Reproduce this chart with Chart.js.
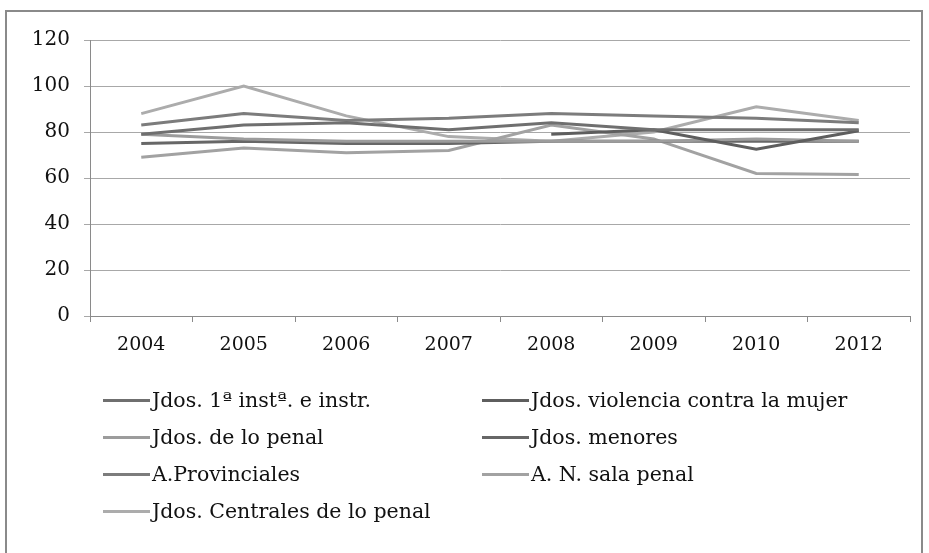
<!DOCTYPE html>
<html>
<head>
<meta charset="utf-8">
<script src="https://cdn.jsdelivr.net/npm/chart.js@4/dist/chart.umd.min.js"></script>
<style>
  html, body { margin: 0; padding: 0; background: #fff; overflow: hidden; }
  #wrap { position: relative; width: 929px; height: 553px; }
  #frame { position: absolute; left: 5px; top: 10px; width: 918px; height: 600px;
           border: 2px solid #8a8a8a; box-sizing: border-box; }
  #chartBox { position: absolute; left: 0; top: 0; width: 929px; height: 553px; }
  .leg { position: absolute; font-family: "DejaVu Serif", serif; font-size: 20.5px; color: #111;
         white-space: nowrap; line-height: 20px; }
  .leg i { position: absolute; left: -49px; top: 9px; width: 47px; height: 3px; }
</style>
</head>
<body>
<div id="wrap">
  <div id="frame"></div>
  <div id="chartBox"><canvas id="ch_line"></canvas></div>
  <div id="legend"></div>
</div>
<script>
/* ── data ─────────────────────────────────────────────────────── */
const years = ['2004', '2005', '2006', '2007', '2008', '2009', '2010', '2012'];

const primeraInst = [79, 83, 84, 81, 84, 81, 81, 81];
const violencia   = [null, null, null, null, 79, 81, 72.5, 80.5];
const dePenal     = [79, 77, 76, 76, 76, 76, 77, 76];
const menores     = [75, 76, 75, 75, 76, 76, 76, 76];
const aProv       = [83, 88, 85, 86, 88, 87, 86, 84];
const anSala      = [69, 73, 71, 72, 83, 77, 62, 61.5];
const centrales   = [88, 100, 87, 78, 76, 80, 91, 85];

const seriesNames = [
  'Jdos. 1ª instª. e instr.', 'Jdos. violencia contra la mujer',
  'Jdos. de lo penal', 'Jdos. menores',
  'A.Provinciales', 'A. N. sala penal',
  'Jdos. Centrales de lo penal'
];
const seriesData   = [primeraInst, violencia, dePenal, menores, aProv, anSala, centrales];
const seriesColors = ['#6f6f6f', '#5e5e5e', '#9c9c9c', '#676767', '#7c7c7c', '#a2a2a2', '#acacac'];

const yTicks = [0, 20, 40, 60, 80, 100, 120];

/* ── chart ────────────────────────────────────────────────────── */
const FONT_X = { family: '"DejaVu Serif", serif', size: 19 };
const FONT_Y = { family: '"DejaVu Serif", serif', size: 20 };

function drawChart() {
  const datasets = seriesNames.map((name, i) => ({
    label: name,
    data: seriesData[i],
    borderColor: seriesColors[i],
    backgroundColor: seriesColors[i],
    borderWidth: 3,
    pointRadius: 0,
    tension: 0,
    spanGaps: false
  }));

  const canvas = document.getElementById('ch_line');
  return new Chart(canvas.getContext('2d'), {
    type: 'line',
    data: { labels: years, datasets },
    options: {
      responsive: true,
      maintainAspectRatio: false,
      animation: false,
      layout: { padding: { left: 0, top: 40, right: 19, bottom: 0 } },
      plugins: { legend: { display: false }, tooltip: { enabled: false } },
      scales: {
        x: {
          offset: true,
          grid: { offset: true, drawOnChartArea: false, drawTicks: true, tickLength: 6, color: '#8a8a8a' },
          border: { color: '#8a8a8a', width: 1 },
          ticks: { font: FONT_X, color: '#111', padding: 12, maxRotation: 0 },
          afterFit: s => { s.height = 237; }
        },
        y: {
          min: 0, max: 120,
          afterBuildTicks: s => { s.ticks = yTicks.map(v => ({ value: v })); },
          grid: { color: '#a8a8a8', lineWidth: 1, tickLength: 6 },
          border: { color: '#8a8a8a', width: 1 },
          ticks: { font: FONT_Y, color: '#111', padding: 14 },
          afterFit: s => { s.width = 90; }
        }
      }
    }
  });
}

/* ── legend (two columns, html text) ──────────────────────────── */
function renderLegend() {
  const box = document.getElementById('legend');
  const colX = [152, 531];
  const rowY = [390, 427, 464, 501];
  box.innerHTML = seriesNames.map((name, i) => {
    const x = colX[i % 2], y = rowY[Math.floor(i / 2)];
    return `<div class="leg" style="left:${x}px;top:${y}px"><i style="background:${seriesColors[i]}"></i>${name}</div>`;
  }).join('');
}

drawChart();
renderLegend();
</script>
</body>
</html>
